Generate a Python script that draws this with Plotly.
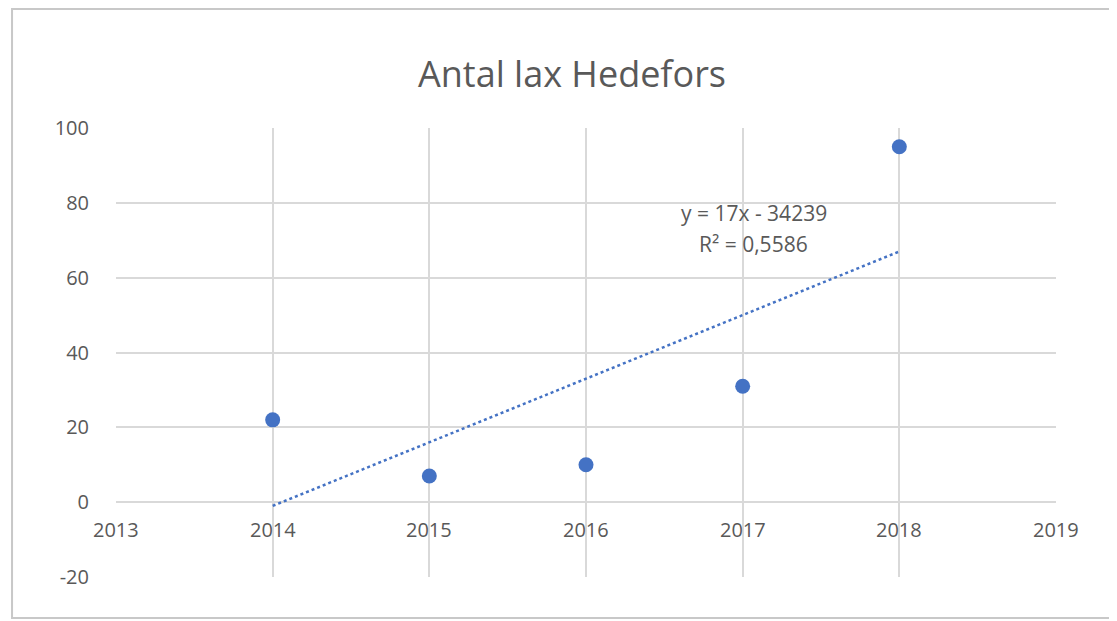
import plotly.graph_objects as go

years = [2014, 2015, 2016, 2017, 2018]
counts = [22, 7, 10, 31, 95]
x_ticks = [2013, 2014, 2015, 2016, 2017, 2018, 2019]
y_ticks = [-20, 0, 20, 40, 60, 80, 100]
title_text = "Antal lax Hedefors"

# linear trendline (least squares)
n = len(years)
mx = sum(years) / n
my = sum(counts) / n
slope = sum((x - mx) * (y - my) for x, y in zip(years, counts)) / sum((x - mx) ** 2 for x in years)
intercept = my - slope * mx
ss_tot = sum((y - my) ** 2 for y in counts)
ss_res = sum((y - (slope * x + intercept)) ** 2 for x, y in zip(years, counts))
r2 = 1 - ss_res / ss_tot
trend_x = [years[0], years[-1]]
trend_y = [slope * x + intercept for x in trend_x]

grey = "#595959"
blue = "#4472C4"
font_family = "'Open Sans', Lato, sans-serif"
tick_size = 20

fig = go.Figure()
fig.add_trace(go.Scatter(x=trend_x, y=trend_y, mode="lines",
                         line=dict(color=blue, width=2.5, dash="dot"),
                         hoverinfo="skip", showlegend=False))
fig.add_trace(go.Scatter(x=years, y=counts, mode="markers",
                         marker=dict(color=blue, size=15), showlegend=False))

eq_line1 = f"y = {slope:.0f}x - {abs(intercept):.0f}"
eq_line2 = f"R² = {r2:.4f}".replace(".", ",")
fig.add_annotation(x=2017.07, y=77.3, xref="x", yref="y", text=eq_line1, showarrow=False,
                   font=dict(family=font_family, size=21, color=grey))
fig.add_annotation(x=2017.07, y=69.0, xref="x", yref="y", text=eq_line2, showarrow=False,
                   font=dict(family=font_family, size=21, color=grey))

# x tick labels sit on the y=0 line
for t in x_ticks:
    fig.add_annotation(x=t, y=0, xref="x", yref="y", text=str(t), showarrow=False,
                       yanchor="top", yshift=-12,
                       font=dict(family=font_family, size=tick_size, color=grey))

# outer chart frame
fig.add_shape(type="rect", xref="paper", yref="paper",
              x0=-0.1106, x1=1.5, y0=-0.0913, y1=1.265,
              line=dict(color="#c8c8c8", width=2), layer="below")

fig.update_layout(
    width=1117, height=621,
    margin=dict(l=108, r=69, t=120, b=52),
    paper_bgcolor="white", plot_bgcolor="white",
    title=dict(text=title_text, x=(572 - 8) / 1117, xanchor="center", y=1 - 66 / 621, yanchor="middle",
               font=dict(family=font_family, size=36, color=grey)),
    xaxis=dict(range=[2013, 2019], tickvals=x_ticks, showticklabels=False,
               showgrid=True, gridcolor="#d9d9d9", gridwidth=1.5, zeroline=False,
               showline=False),
    yaxis=dict(range=[-20, 100], tickvals=y_ticks, ticktext=[str(v) for v in y_ticks],
               showgrid=True, gridcolor="#d9d9d9",
               gridwidth=1.5, zeroline=False, showline=False, ticks="", ticklabelstandoff=26,
               tickfont=dict(family=font_family, size=tick_size, color=grey)),
    font=dict(family=font_family),
)

fig.write_html("out.html")
